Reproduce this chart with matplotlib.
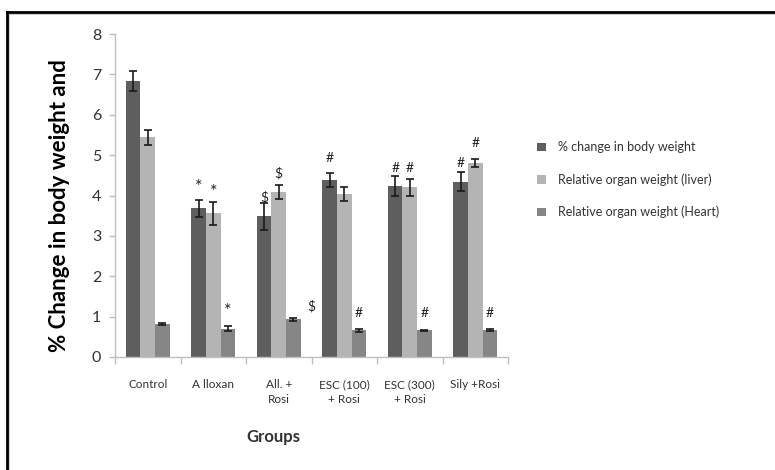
import matplotlib
matplotlib.use("Agg")
import matplotlib.pyplot as plt
from matplotlib.lines import Line2D
import numpy as np

plt.rcParams['font.family'] = ['Lato', 'DejaVu Sans']

groups = ["Control", "A lloxan", "All. +\nRosi", "ESC (100)\n+ Rosi", "ESC (300)\n+ Rosi", "Sily +Rosi"]
series_names = ["% change in body weight", "Relative organ weight (liver)", "Relative organ weight (Heart)"]

body = [6.84, 3.68, 3.48, 4.38, 4.23, 4.34]
body_err = [0.24, 0.22, 0.33, 0.18, 0.25, 0.23]
liver = [5.44, 3.56, 4.09, 4.04, 4.20, 4.80]
liver_err = [0.19, 0.29, 0.18, 0.18, 0.21, 0.10]
heart = [0.82, 0.70, 0.93, 0.66, 0.66, 0.67]
heart_err = [0.03, 0.06, 0.03, 0.03, 0.02, 0.03]

# significance marks: (group index, series index, symbol, y position)
marks = [
    (1, 0, "*", 4.22), (1, 1, "*", 4.08), (1, 2, "*", 1.15),
    (2, 0, "$", 3.95), (2, 1, "$", 4.55), (2, 2, "$", 1.25),
    (3, 0, "#", 4.92), (3, 2, "#", 1.10),
    (4, 0, "#", 4.68), (4, 1, "#", 4.68), (4, 2, "#", 1.10),
    (5, 0, "#", 4.80), (5, 1, "#", 5.30), (5, 2, "#", 1.10),
]

colors = ["#5e5e5e", "#b4b4b4", "#868686"]

fig = plt.figure(figsize=(7.75, 4.7), dpi=100)
ax = fig.add_axes([115 / 775, 1 - 357 / 470, (508 - 115) / 775, (357 - 34) / 470])

x = np.arange(len(groups))
w = 0.222
offsets = [-w, 0, w]
values = [body, liver, heart]
errs = [body_err, liver_err, heart_err]
for i in range(3):
    ax.bar(x + offsets[i], values[i], w, color=colors[i], label=series_names[i], zorder=2)
    ax.errorbar(x + offsets[i], values[i], yerr=errs[i], fmt="none", ecolor="#1a1a1a",
                elinewidth=1.2, capsize=3, capthick=1.2, zorder=3)

for g, s, sym, yv in marks:
    xp = x[g] + offsets[s]
    if g == 2 and s == 2:
        xp = x[g] + 0.5
    size = 13 if sym == "*" else 10
    ax.text(xp, yv, sym, ha="center", va="center", fontsize=size, color="#222222")

ax.set_xlim(-0.5, len(groups) - 0.5)
ax.set_ylim(0, 8)
ax.set_yticks(range(0, 9))
ax.tick_params(axis="y", labelsize=11.5, colors="#bfbfbf", labelcolor="#333333", length=4, width=1, pad=6)
ax.set_xticks(x)
ax.set_xticklabels(groups, fontsize=8.5, color="#333333", linespacing=1.45)
ax.tick_params(axis="x", length=0, pad=16)
ax.set_xticks(np.arange(-0.5, len(groups)), minor=True)
ax.tick_params(axis="x", which="minor", length=5, colors="#bfbfbf", width=1)

for side in ["top", "right"]:
    ax.spines[side].set_visible(False)
for side in ["left", "bottom"]:
    ax.spines[side].set_color("#bfbfbf")
    ax.spines[side].set_linewidth(1)

ax.set_xlabel("Groups", fontsize=12, fontweight="bold", color="#333333")
ax.xaxis.set_label_coords((273 - 115) / 393, (357 - 437) / 323, transform=ax.transAxes)
ax.xaxis.label.set_va("center")
fig.text(60 / 775, 1 - 206 / 470, "% Change in body weight and", rotation=90, ha="center",
         va="center", fontsize=16, fontweight="bold", color="#000000")

leg = fig.legend(loc="upper left", bbox_to_anchor=(526 / 775, 1 - 130 / 470), frameon=False,
                 fontsize=9, handlelength=0.7, handleheight=0.7, labelspacing=1.6,
                 handletextpad=1.0, labelcolor="#333333")

# outer frame
fig.add_artist(Line2D([8.5 / 775, 8.5 / 775], [0, 1 - 13.5 / 470], transform=fig.transFigure,
                      color="#c8c8c8", lw=1.2))
fig.add_artist(Line2D([8.5 / 775, 1], [1 - 13.5 / 470, 1 - 13.5 / 470], transform=fig.transFigure,
                      color="#c8c8c8", lw=1.2))
fig.add_artist(Line2D([7 / 775, 7 / 775], [0, 1 - 12 / 470], transform=fig.transFigure,
                      color="#000000", lw=2))
fig.add_artist(Line2D([7 / 775, 1], [1 - 12 / 470, 1 - 12 / 470], transform=fig.transFigure,
                      color="#000000", lw=2))

fig.savefig("out.png", dpi=100)
